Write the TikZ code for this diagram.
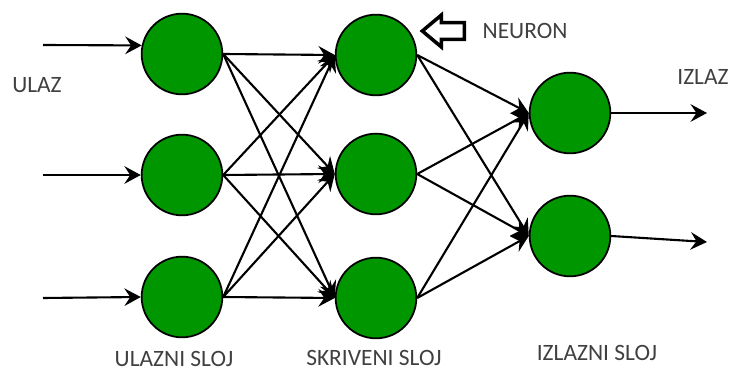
\documentclass[tikz,border=0pt]{standalone}
\usepackage{fontspec}
\setmainfont{Carlito}
\usepackage{tikz}
\usetikzlibrary{arrows.meta,positioning,shapes.arrows}
\definecolor{neurongreen}{RGB}{0,150,0}
\definecolor{labelgray}{RGB}{64,64,64}

\begin{document}
\begin{tikzpicture}[neuron/.style={circle,draw,line width=1.5pt,fill=neurongreen,minimum size=2.42cm,inner sep=0pt},lbl/.style={text=labelgray,font=\fontsize{20}{24}\selectfont,inner sep=0pt},>={Stealth[length=14pt,width=15pt,inset=5pt]},every path/.style={line width=1.8pt}]
\useasboundingbox (0,0) rectangle (21.93,11.34);
\node[neuron] (i1) at (5.46,9.72) {};
\node[neuron] (i2) at (5.46,6.09) {};
\node[neuron] (i3) at (5.46,2.43) {};
\node[neuron] (h1) at (11.28,9.69) {};
\node[neuron] (h2) at (11.28,6.12) {};
\node[neuron] (h3) at (11.28,2.40) {};
\node[neuron] (o1) at (17.10,7.95) {};
\node[neuron] (o2) at (17.10,4.26) {};
\coordinate (x1) at (1.29,9.99);
\coordinate (x2) at (1.29,6.09);
\coordinate (x3) at (1.29,2.40);
\coordinate (y1) at (21.21,7.95);
\coordinate (y2) at (21.21,4.08);
\node[lbl] (ulaz) at (1.11,8.79) {ULAZ};
\node[lbl] (izlaz) at (21.09,9.03) {IZLAZ};
\node[single arrow,draw,line width=3pt,shape border rotate=180,minimum height=1.26cm,minimum width=0.85cm,inner sep=0.2cm,single arrow head extend=0.225cm,single arrow tip angle=80] (ptr) at (13.45,10.41) {};
\node[lbl] (neur) at (15.75,10.41) {NEURON};
\node[lbl] (ls) at (5.22,0.57) {ULAZNI SLOJ};
\node[lbl] (hs) at (11.22,0.60) {SKRIVENI SLOJ};
\node[lbl] (os) at (17.91,0.75) {IZLAZNI SLOJ};
\draw[->] (x1) -- (i1.168);
\draw[->] (x2) -- (i2.west);
\draw[->] (x3) -- (i3.west);
\draw[->] (i1.east) -- (h1.west);
\draw[->] (i1.east) -- (h2.west);
\draw[->] (i1.east) -- (h3.west);
\draw[->] (i2.east) -- (h1.west);
\draw[->] (i2.east) -- (h2.west);
\draw[->] (i2.east) -- (h3.west);
\draw[->] (i3.east) -- (h1.west);
\draw[->] (i3.east) -- (h2.west);
\draw[->] (i3.east) -- (h3.west);
\draw[->] (h1.east) -- (o1.west);
\draw[->] (h1.east) -- (o2.west);
\draw[->] (h2.east) -- (o1.west);
\draw[->] (h2.east) -- (o2.west);
\draw[->] (h3.east) -- (o1.west);
\draw[->] (h3.east) -- (o2.west);
\draw[->] (o1.east) -- (y1);
\draw[->] (o2.east) -- (y2);
\end{tikzpicture}
\end{document}
